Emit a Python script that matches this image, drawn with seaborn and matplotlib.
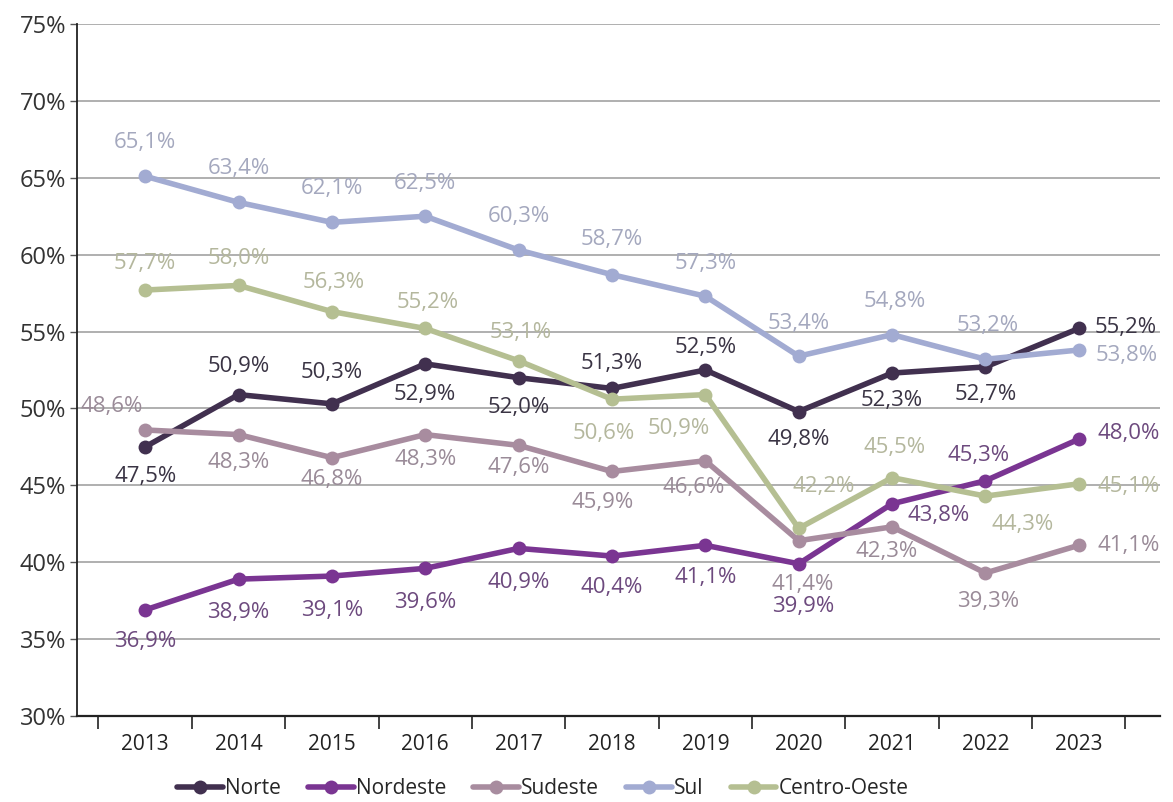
import numpy as np
import pandas as pd
import seaborn as sns
import matplotlib.pyplot as plt
from matplotlib.ticker import FixedLocator

years = ["2013", "2014", "2015", "2016", "2017", "2018", "2019", "2020", "2021", "2022", "2023"]
regions = ["Norte", "Nordeste", "Sudeste", "Sul", "Centro-Oeste"]
norte = [47.5, 50.9, 50.3, 52.9, 52.0, 51.3, 52.5, 49.8, 52.3, 52.7, 55.2]
nordeste = [36.9, 38.9, 39.1, 39.6, 40.9, 40.4, 41.1, 39.9, 43.8, 45.3, 48.0]
sudeste = [48.6, 48.3, 46.8, 48.3, 47.6, 45.9, 46.6, 41.4, 42.3, 39.3, 41.1]
sul = [65.1, 63.4, 62.1, 62.5, 60.3, 58.7, 57.3, 53.4, 54.8, 53.2, 53.8]
centro_oeste = [57.7, 58.0, 56.3, 55.2, 53.1, 50.6, 50.9, 42.2, 45.5, 44.3, 45.1]
y_ticks = [30, 35, 40, 45, 50, 55, 60, 65, 70, 75]

series = {"Norte": norte, "Nordeste": nordeste, "Sudeste": sudeste,
          "Sul": sul, "Centro-Oeste": centro_oeste}

line_colors = {"Norte": "#41304f", "Nordeste": "#7a3592", "Sudeste": "#a88c9f",
               "Sul": "#a2abd2", "Centro-Oeste": "#b5bf92"}
label_colors = {"Norte": "#3a3444", "Nordeste": "#6d4a7e", "Sudeste": "#9a8b98",
                "Sul": "#a4a8be", "Centro-Oeste": "#b4b79d"}

# label offsets in pixels (dx, dy), dy positive = up
offsets = {
    "Norte": [(0, -30), (0, 28), (0, 31), (0, -31), (0, -30), (0, 25), (0, 23),
              (0, -28), (0, -27), (0, -28), (47, 1)],
    "Nordeste": [(0, -32), (0, -33), (0, -34), (0, -34), (0, -34), (0, -31), (0, -32),
                 (4, -43), (47, -12), (-7, 25), (50, 6)],
    "Sudeste": [(-33, 23), (0, -28), (0, -22), (0, -25), (0, -22), (-9, -31), (-12, -27),
                (4, -44), (-5, -25), (3, -29), (50, 0)],
    "Sul": [(0, 34), (0, 34), (0, 34), (0, 33), (0, 34), (0, 35), (0, 33),
            (0, 33), (3, 33), (2, 34), (48, -5)],
    "Centro-Oeste": [(0, 27), (0, 27), (2, 29), (2, 26), (2, 28), (-8, -34), (-27, -34),
                     (25, 42), (3, 30), (37, -28), (50, -3)],
}

rows = []
for r in regions:
    for i, v in enumerate(series[r]):
        rows.append({"idx": i, "value": v, "Região": r})
df = pd.DataFrame(rows)

sns.set_theme(style="white")
plt.rcParams["font.family"] = ["Open Sans", "DejaVu Sans"]

fig = plt.figure(figsize=(11.73, 8.02), dpi=100)
ax = fig.add_axes([77 / 1173, 1 - 716 / 802, (1160 - 77) / 1173, (716 - 24) / 802])

sns.lineplot(data=df, x="idx", y="value", hue="Região", hue_order=regions,
             palette=line_colors, marker="o", markersize=10, markeredgewidth=0,
             linewidth=4, ax=ax, legend=True)

for r in regions:
    for i, v in enumerate(series[r]):
        dx, dy = offsets[r][i]
        ax.annotate(f"{v:.1f}%".replace(".", ","), (i, v), xytext=(dx, dy),
                    textcoords="offset pixels", ha="center", va="center",
                    fontsize=16, color=label_colors[r])

ax.set_xlim(-0.73, 10.87)
ax.set_ylim(30, 75)
ax.set_yticks(y_ticks)
ax.set_yticklabels([f"{t}%" for t in y_ticks], fontsize=17, color="#333333")
ax.set_xticks(range(len(years)))
ax.set_xticklabels(years, fontsize=15, color="#222222")
ax.xaxis.set_minor_locator(FixedLocator(np.arange(-0.5, 11, 1.0)))
ax.tick_params(axis="x", which="major", length=0, pad=13)
ax.tick_params(axis="x", which="minor", length=9, width=1.2, color="#222222", direction="out", bottom=True)
ax.tick_params(axis="y", which="major", length=5, width=1, color="#555555", left=True, pad=3)
ax.grid(axis="y", color="#9a9a9a", linewidth=1.1)
ax.set_axisbelow(True)
for s in ["top", "right"]:
    ax.spines[s].set_visible(False)
ax.spines["left"].set_color("#222222")
ax.spines["left"].set_linewidth(1.3)
ax.spines["bottom"].set_color("#222222")
ax.spines["bottom"].set_linewidth(1.6)
ax.set_xlabel("")
ax.set_ylabel("")

handles, labels = ax.get_legend_handles_labels()
ax.legend(handles, labels, loc="center", bbox_to_anchor=(0.43, -0.105), ncol=5,
          frameon=False, fontsize=15, handlelength=2.2, handletextpad=0.1,
          columnspacing=1.3, markerscale=1.0)

fig.savefig("out.png", dpi=100)
